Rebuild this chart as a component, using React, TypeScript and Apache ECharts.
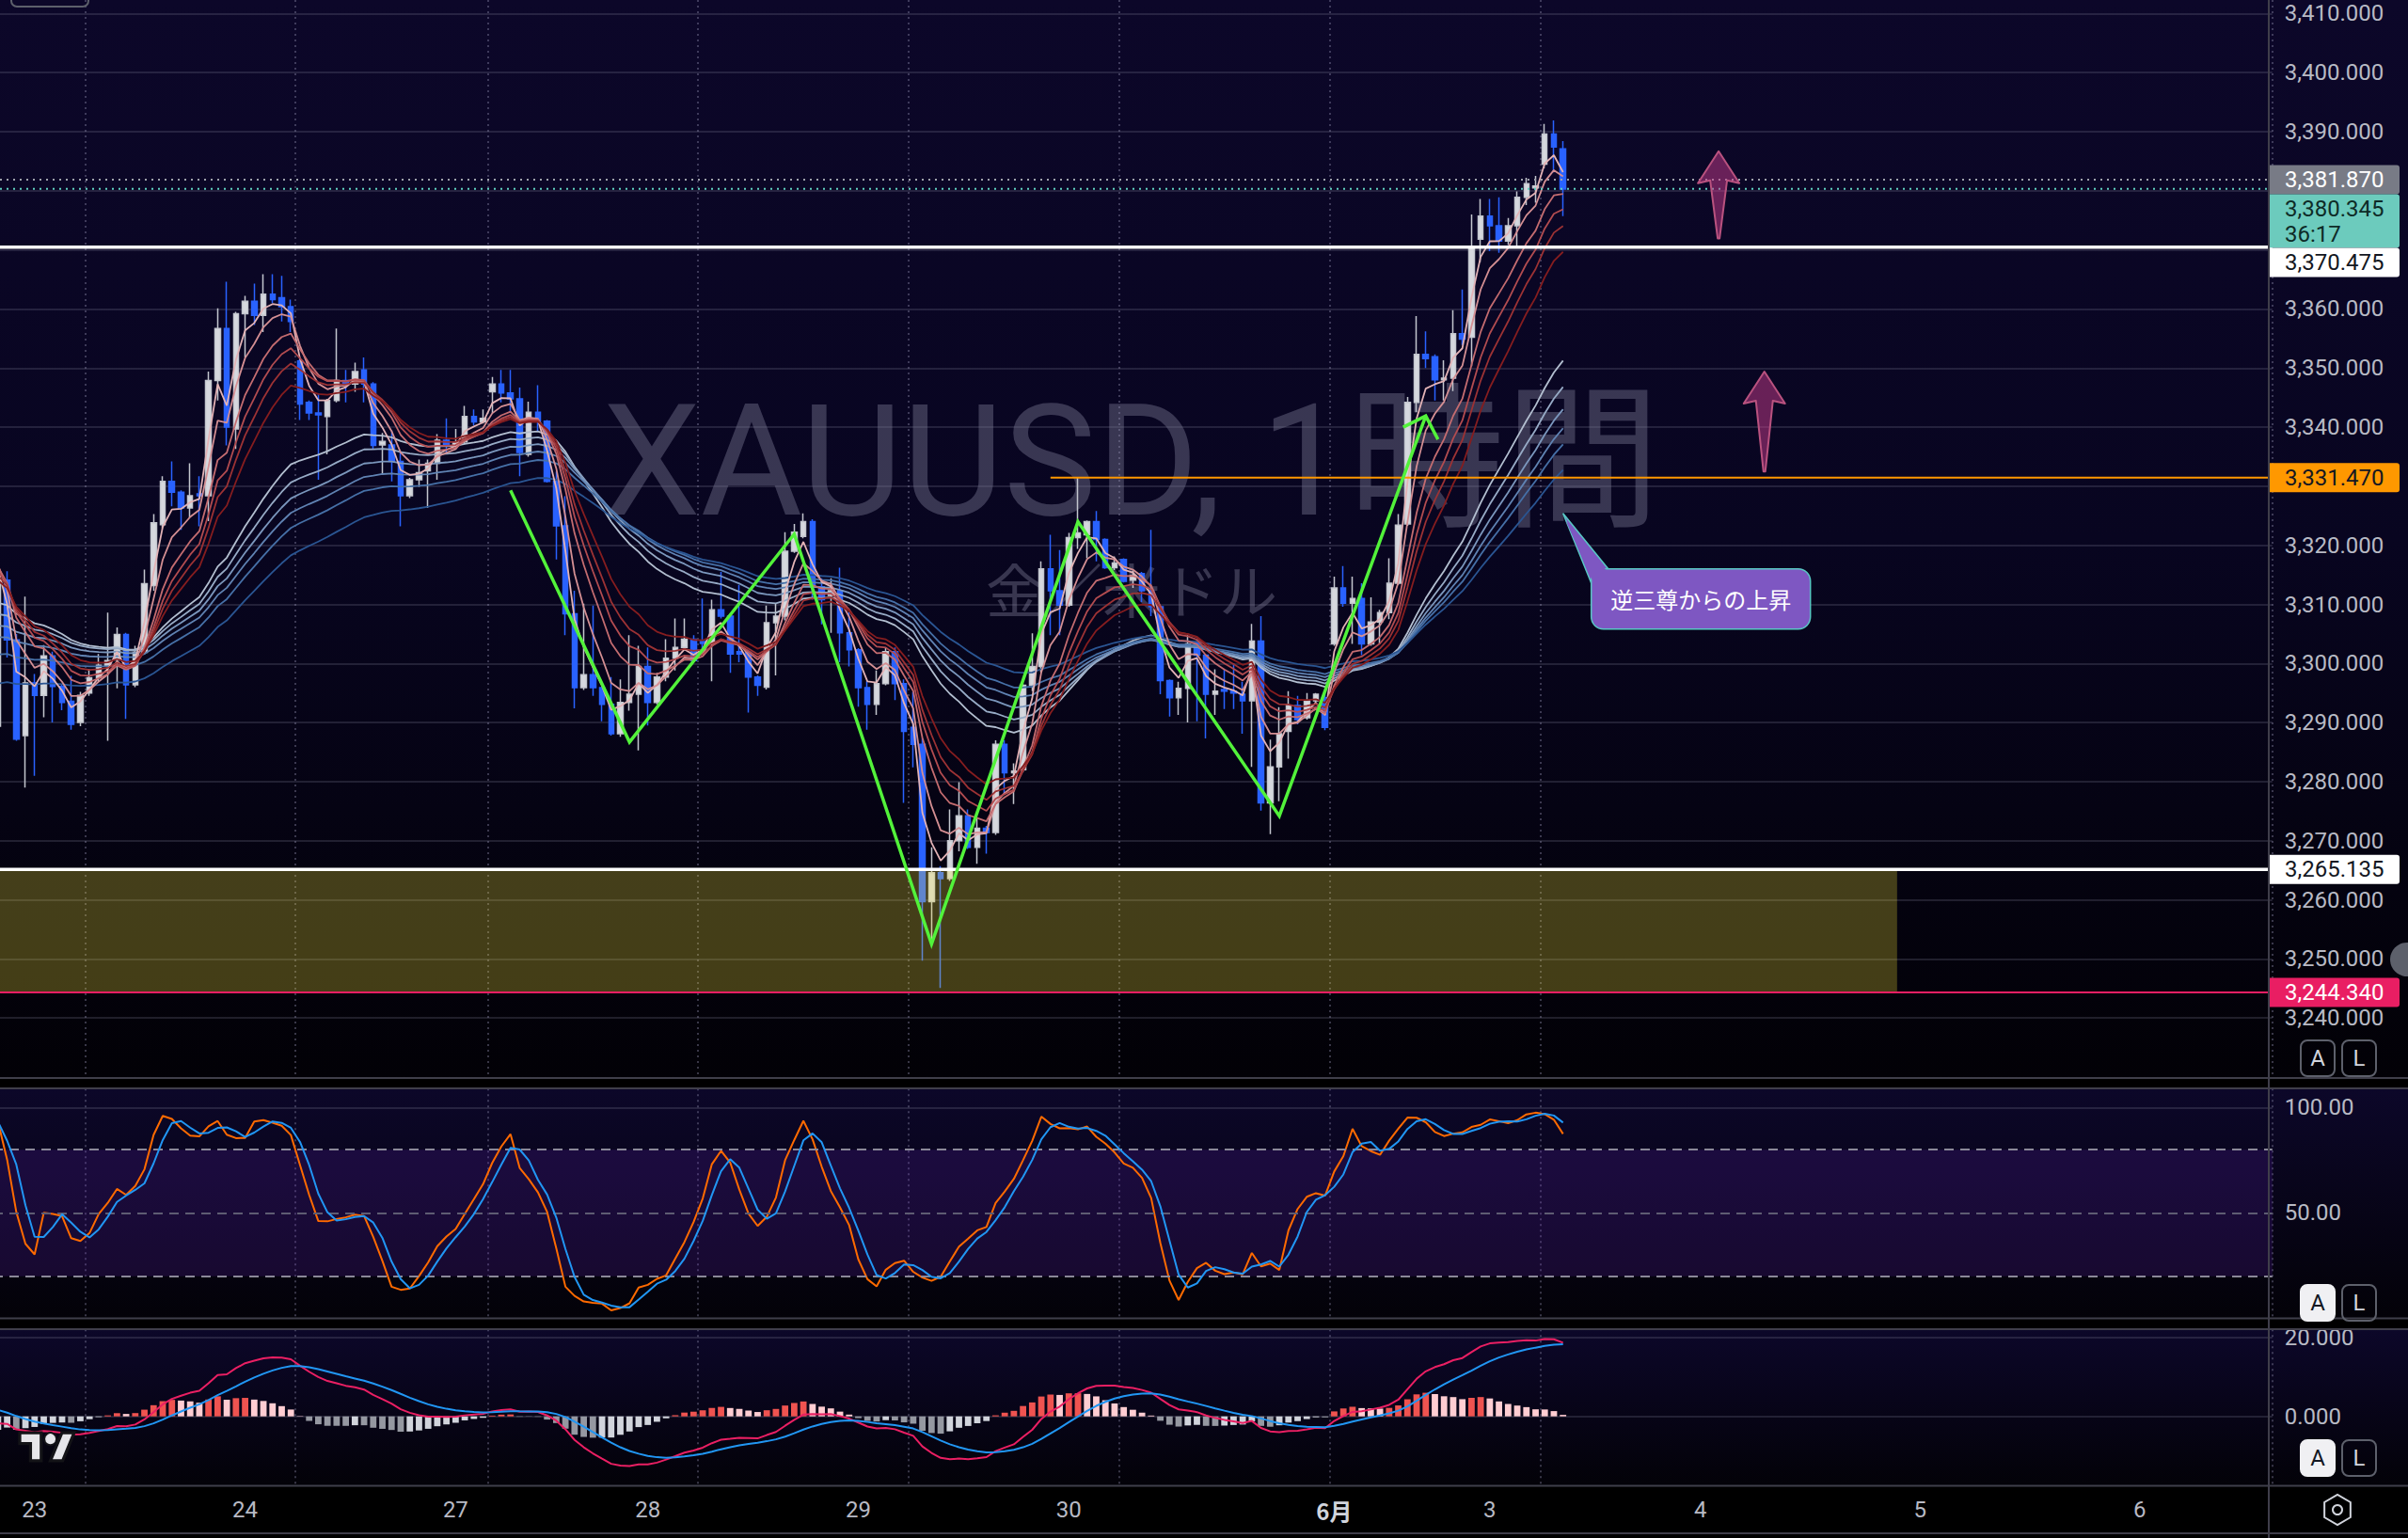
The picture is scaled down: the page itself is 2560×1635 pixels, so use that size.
import React, { useEffect, useRef } from 'react';
import * as echarts from 'echarts';

echarts.graphic.registerShape(
  'tvlogo',
  echarts.graphic.extendPath('M14 22H7V11H0V4h14v18zM28 22h-8l7.5-18h8L28 22z', {})
);

// ---------- data ----------
const OPEN = [
  3289.4, 3314.1, 3304.0, 3287.8, 3296.7, 3294.6, 3301.3, 3296.1, 3293.6, 3290.0,
  3295.0, 3297.6, 3299.7, 3300.6, 3304.9, 3296.4, 3301.9, 3313.2, 3323.5, 3330.8,
  3329.0, 3326.3, 3328.7, 3328.4, 3347.9, 3356.7, 3339.7, 3359.2, 3361.3, 3358.9,
  3362.5, 3361.9, 3360.4, 3351.2, 3344.2, 3342.4, 3341.8, 3344.5, 3347.9, 3347.3,
  3349.7, 3347.3, 3337.0, 3337.0, 3334.2, 3328.4, 3331.1, 3332.6, 3333.9, 3337.8,
  3336.9, 3337.5, 3341.8, 3340.9, 3346.0, 3347.3, 3345.8, 3344.8, 3335.4, 3342.5,
  3341.0, 3330.8, 3323.3, 3308.4, 3295.9, 3298.1, 3295.9, 3293.1, 3288.1, 3293.4,
  3294.8, 3299.5, 3293.4, 3297.7, 3300.9, 3302.7, 3304.1, 3303.7, 3303.4, 3309.1,
  3308.0, 3302.0, 3301.9, 3297.7, 3296.0, 3306.9, 3308.0, 3319.0, 3321.5, 3324.0,
  3313.0, 3311.5, 3312.3, 3305.2, 3302.3, 3295.9, 3293.1, 3296.6, 3302.0, 3296.6,
  3289.2, 3286.3, 3259.7, 3264.6, 3263.6, 3270.0, 3274.2, 3268.9, 3272.1, 3271.4,
  3286.3, 3281.5, 3282.0, 3296.3, 3299.5, 3316.0, 3312.3, 3309.9, 3321.3, 3321.8,
  3324.0, 3321.0, 3316.2, 3317.6, 3314.1, 3315.2, 3312.3, 3309.6, 3297.1, 3294.2,
  3295.8, 3303.5, 3301.4, 3294.8, 3295.6, 3295.3, 3294.8, 3293.7, 3303.8, 3276.4,
  3282.5, 3288.5, 3292.9, 3290.8, 3293.7, 3294.2, 3303.3, 3312.8, 3310.2, 3311.0,
  3303.3, 3307.0, 3308.6, 3313.6, 3323.6, 3344.2, 3352.3, 3351.9, 3348.0, 3348.3,
  3355.8, 3355.2, 3371.8, 3375.7, 3374.1, 3371.5, 3374.1, 3378.9, 3380.5, 3384.5,
  3389.6, 3387.1,
];
const CLOSE = [
  3314.1, 3304.0, 3287.2, 3296.7, 3294.6, 3301.3, 3296.1, 3293.4, 3289.7, 3294.6,
  3297.6, 3299.7, 3300.5, 3304.9, 3296.4, 3301.9, 3313.5, 3323.8, 3330.8, 3329.0,
  3326.3, 3328.4, 3328.4, 3347.9, 3356.7, 3340.0, 3359.2, 3361.3, 3358.9, 3362.5,
  3361.6, 3360.4, 3357.9, 3343.9, 3342.4, 3342.1, 3344.5, 3347.9, 3347.3, 3349.4,
  3347.3, 3336.9, 3337.6, 3334.2, 3328.4, 3331.1, 3332.3, 3333.9, 3337.8, 3336.9,
  3337.5, 3341.8, 3340.9, 3341.5, 3347.3, 3345.8, 3344.8, 3335.7, 3342.5, 3341.0,
  3330.8, 3323.3, 3308.4, 3295.9, 3298.1, 3295.9, 3293.1, 3288.1, 3293.4, 3294.8,
  3299.5, 3293.4, 3297.7, 3300.9, 3302.7, 3304.1, 3300.5, 3303.4, 3309.1, 3308.0,
  3301.6, 3301.6, 3297.7, 3296.3, 3306.9, 3308.0, 3319.0, 3322.2, 3324.0, 3313.0,
  3310.8, 3312.3, 3305.2, 3302.3, 3295.9, 3293.1, 3296.6, 3302.0, 3296.6, 3288.5,
  3286.3, 3259.7, 3264.6, 3263.6, 3270.0, 3274.2, 3268.9, 3272.1, 3271.4, 3286.3,
  3281.5, 3281.8, 3296.3, 3299.5, 3316.0, 3312.3, 3309.9, 3321.3, 3322.1, 3324.0,
  3321.0, 3316.2, 3317.0, 3313.9, 3314.9, 3312.3, 3309.6, 3297.1, 3294.2, 3295.8,
  3303.3, 3301.4, 3294.8, 3295.3, 3295.3, 3295.0, 3293.7, 3303.8, 3276.4, 3282.5,
  3288.1, 3292.9, 3290.5, 3293.7, 3294.8, 3289.2, 3312.8, 3310.2, 3311.0, 3303.3,
  3307.0, 3308.6, 3313.6, 3323.4, 3344.2, 3352.3, 3351.6, 3348.0, 3348.3, 3355.8,
  3354.9, 3370.5, 3375.7, 3374.1, 3371.5, 3374.1, 3378.9, 3381.2, 3380.8, 3389.6,
  3387.4, 3380.3,
];
const HIGH = [
  3316.0, 3315.6, 3305.0, 3311.3, 3298.2, 3303.1, 3302.0, 3296.4, 3297.9, 3295.2,
  3299.1, 3301.6, 3308.6, 3306.1, 3305.2, 3303.0, 3315.9, 3325.3, 3331.7, 3334.2,
  3329.3, 3333.9, 3331.7, 3349.4, 3360.1, 3364.6, 3359.5, 3362.2, 3364.3, 3365.9,
  3365.9, 3365.6, 3361.6, 3351.5, 3344.5, 3345.7, 3344.8, 3356.7, 3349.7, 3350.9,
  3351.8, 3347.6, 3339.0, 3339.4, 3336.0, 3331.4, 3334.5, 3334.5, 3338.8, 3341.5,
  3339.7, 3343.6, 3343.0, 3343.0, 3348.5, 3349.7, 3349.7, 3346.7, 3344.3, 3347.1,
  3341.2, 3332.5, 3328.3, 3312.3, 3310.1, 3309.8, 3296.0, 3297.7, 3297.3, 3304.8,
  3303.0, 3302.7, 3298.4, 3304.1, 3307.6, 3307.6, 3304.8, 3311.0, 3310.8, 3315.5,
  3308.3, 3313.3, 3302.3, 3298.0, 3309.8, 3310.1, 3322.2, 3323.6, 3325.4, 3324.4,
  3314.4, 3314.4, 3316.2, 3308.7, 3302.6, 3297.0, 3298.8, 3302.7, 3302.7, 3297.3,
  3295.2, 3287.4, 3268.9, 3265.7, 3275.3, 3279.9, 3275.3, 3273.9, 3272.5, 3287.0,
  3287.0, 3283.1, 3296.5, 3305.1, 3317.3, 3321.8, 3319.2, 3322.1, 3331.47, 3324.2,
  3325.8, 3321.2, 3318.1, 3317.8, 3315.7, 3315.5, 3322.6, 3309.8, 3297.3, 3296.9,
  3304.8, 3303.8, 3301.6, 3299.0, 3299.0, 3300.0, 3296.9, 3306.7, 3308.0, 3287.1,
  3292.6, 3295.3, 3294.5, 3295.0, 3295.0, 3295.0, 3314.7, 3316.5, 3314.7, 3313.6,
  3311.2, 3309.1, 3317.8, 3325.3, 3345.1, 3358.8, 3356.2, 3352.3, 3351.3, 3359.8,
  3363.3, 3376.0, 3378.6, 3378.6, 3378.9, 3375.4, 3379.9, 3382.2, 3382.5, 3391.3,
  3391.9, 3388.4,
];
const LOW = [
  3288.0, 3301.0, 3286.9, 3279.0, 3281.0, 3290.9, 3290.0, 3292.1, 3288.8, 3289.4,
  3294.5, 3297.0, 3286.9, 3295.8, 3290.6, 3296.0, 3301.5, 3312.3, 3322.9, 3326.6,
  3322.6, 3324.7, 3323.2, 3324.1, 3344.5, 3336.9, 3336.3, 3351.8, 3357.3, 3356.1,
  3361.0, 3357.9, 3356.1, 3341.2, 3341.2, 3331.1, 3335.4, 3344.2, 3344.2, 3346.0,
  3344.2, 3336.3, 3332.0, 3330.8, 3323.2, 3328.0, 3329.9, 3326.3, 3331.1, 3335.4,
  3336.3, 3337.2, 3340.3, 3340.6, 3342.4, 3344.2, 3342.4, 3331.7, 3335.0, 3339.3,
  3330.6, 3317.6, 3304.8, 3292.4, 3295.5, 3294.5, 3290.2, 3287.8, 3287.6, 3292.0,
  3285.3, 3289.5, 3293.1, 3297.0, 3298.8, 3302.3, 3300.2, 3302.0, 3297.0, 3307.6,
  3298.4, 3300.2, 3291.7, 3294.5, 3295.6, 3298.0, 3307.3, 3318.7, 3321.2, 3310.8,
  3306.6, 3305.2, 3300.2, 3299.5, 3292.7, 3288.8, 3291.3, 3296.3, 3293.8, 3276.4,
  3282.4, 3249.7, 3252.6, 3245.1, 3263.2, 3268.2, 3268.6, 3266.1, 3267.8, 3271.0,
  3278.0, 3276.2, 3281.6, 3295.3, 3298.5, 3304.8, 3304.8, 3309.6, 3319.4, 3317.8,
  3317.3, 3316.0, 3315.8, 3313.7, 3312.8, 3310.4, 3308.0, 3294.8, 3291.0, 3291.3,
  3290.0, 3290.2, 3287.3, 3291.3, 3292.3, 3292.3, 3288.1, 3282.5, 3275.1, 3271.1,
  3276.7, 3283.9, 3289.7, 3290.5, 3293.2, 3288.7, 3303.0, 3309.6, 3303.3, 3301.4,
  3303.0, 3303.3, 3307.5, 3313.3, 3323.3, 3342.5, 3350.0, 3344.5, 3344.5, 3346.1,
  3353.9, 3350.3, 3367.9, 3369.8, 3369.5, 3370.8, 3370.5, 3377.6, 3378.0, 3383.8,
  3383.1, 3375.7,
];

const SLOT_COUNT = 249; // hourly slots shown incl. empty future area
const PRICE_TICKS = [3240, 3250, 3260, 3270, 3280, 3290, 3300, 3310, 3320, 3330, 3340, 3350, 3360, 3370, 3380, 3390, 3400, 3410];
const PRICE_LABEL_TICKS = [3240, 3250, 3260, 3270, 3280, 3290, 3300, 3310, 3320, 3340, 3350, 3360, 3390, 3400, 3410];
const STOCH_LABEL_TICKS = [50, 100];
const STOCH_LEVELS = [80, 50, 20];
const MACD_TICKS = [0, 20];
const DAY_LABEL_IDX = [4, 27, 50, 71, 94, 117, 146, 163, 186, 210, 234];
const DAY_LABEL_TEXT = ['23', '24', '27', '28', '29', '30', '6月', '3', '4', '5', '6'];
const SESSION_BREAK_IDX = [10, 33, 54, 77, 100, 123, 146, 169];

const SHORT_EMA = [3, 5, 8, 10, 12, 15];
const LONG_EMA = [30, 35, 40, 45, 50, 60];
const SHORT_EMA_START = [3318, 3318, 3317, 3316, 3315, 3314];
const LONG_EMA_START = [3310, 3308, 3306, 3304, 3301, 3296];
const MACD_START = { fast: 3306.0, slow: 3308.6, signal: 2.5 };

const LEVEL_PRICES = [3370.475, 3265.135, 3244.34, 3331.47, 3381.87, 3380.345];
const LEVEL_START_IDX = [0, 0, 0, 115, 0, 0];
const ZONE = [207, 3265.135, 3244.34]; // right edge index, top, bottom
const ZIG_X = [56, 69, 87, 102, 118, 140, 156];
const ZIG_Y = [3329.3, 3286.7, 3321.9, 3252.5, 3324.0, 3274.2, 3341.9];
const UP_ARROWS = [
  [188, 3386.7, 3371.95],
  [193, 3349.4, 3332.5],
];
const CALLOUT_AT = [171, 3325.4];
const CALLOUT_TEXT = '逆三尊からの上昇';
const TAG_PRICES = [3381.87, 3380.345, 3370.475, 3331.47, 3265.135, 3244.34];
const COUNTDOWN = '36:17';
const WATERMARK = 'XAUUSD, 1時間';
const WATERMARK_SUB = '金／米ドル';

// ---------- indicator helpers ----------
const emaOf = (src: number[], period: number, start: number) => {
  const k = 2 / (period + 1);
  let prev = start;
  return src.map((v) => {
    prev = prev + k * (v - prev);
    return +prev.toFixed(3);
  });
};
const smaOf = (src: number[], n: number) =>
  src.map((_, i) => {
    const s = Math.max(0, i - n + 1);
    let sum = 0;
    for (let j = s; j <= i; j++) sum += src[j];
    return sum / (i - s + 1);
  });

const FONT = 'Roboto, "Noto Sans", sans-serif';
const CJK = '"Noto Sans CJK JP", "Noto Sans", sans-serif';
const LATIN_CJK = 'Roboto, "Noto Sans CJK JP", sans-serif';
const AXIS_TEXT = '#b8bac4';
const fmt = (v: number, d: number) =>
  v.toLocaleString('en-US', { minimumFractionDigits: d, maximumFractionDigits: d });

const App = () => {
  const ref = useRef<HTMLDivElement>(null);
  useEffect(() => {
    document.body.style.margin = '0';
    document.body.style.background = '#000';
    const chart = echarts.init(ref.current!, null, { renderer: 'svg' });

    const SLOTS = Array.from({ length: SLOT_COUNT }, (_, i) => String(i));
    const SLOT_W = 9.73;
    const GRID_W = SLOT_COUNT * SLOT_W;
    const breakSet = new Set(SESSION_BREAK_IDX);
    const labelMap = new Map(DAY_LABEL_IDX.map((d, k) => [d, DAY_LABEL_TEXT[k]]));

    // indicators
    const shortE = SHORT_EMA.map((p, k) => emaOf(CLOSE, p, SHORT_EMA_START[k]));
    const longE = LONG_EMA.map((p, k) => emaOf(CLOSE, p, LONG_EMA_START[k]));
    const rawK = CLOSE.map((c, i) => {
      const s = Math.max(0, i - 13);
      let hh = -Infinity;
      let ll = Infinity;
      for (let j = s; j <= i; j++) {
        hh = Math.max(hh, HIGH[j]);
        ll = Math.min(ll, LOW[j]);
      }
      return hh === ll ? 50 : (100 * (c - ll)) / (hh - ll);
    });
    const stK = smaOf(rawK, 3).map((v) => +v.toFixed(2));
    const stD = smaOf(stK, 3).map((v) => +v.toFixed(2));
    const e12 = emaOf(CLOSE, 12, MACD_START.fast);
    const e26 = emaOf(CLOSE, 26, MACD_START.slow);
    const macd = e12.map((v, i) => +(v - e26[i]).toFixed(3));
    const signal = emaOf(macd, 9, MACD_START.signal);
    const hist = macd.map((v, i) => +(v - signal[i]).toFixed(3));
    const histData = hist.map((h, i) => {
      const p = i > 0 ? hist[i - 1] : h;
      let color;
      if (h >= 0) color = h >= p ? '#ef5350' : '#ffcdd2';
      else color = h < p ? '#9598a1' : '#d1d4dc';
      return { value: h, itemStyle: { color } };
    });

    const shortColors = ['#e3b3b6', '#d48f93', '#c46c70', '#b24c50', '#9c3234', '#851d1f'];
    const longColors = ['#b3bfd0', '#97abc6', '#7b97bd', '#6083b3', '#4670a7', '#2a5592'];
    const levelStyles = [
      { stroke: '#ffffff', lineWidth: 3.5 },
      { stroke: '#ffffff', lineWidth: 3.5 },
      { stroke: '#e91e63', lineWidth: 2 },
      { stroke: '#ff9800', lineWidth: 2 },
      { stroke: '#9ea1ab', lineWidth: 2, lineDash: [2, 5] },
      { stroke: '#5fd0c0', lineWidth: 2, lineDash: [2, 5] },
    ];
    const tagStyles = [
      { bg: '#787b86', fg: '#ffffff' },
      { bg: '#6ccbbd', fg: '#0e2b27' },
      { bg: '#ffffff', fg: '#131722' },
      { bg: '#ff9800', fg: '#131722' },
      { bg: '#ffffff', fg: '#131722' },
      { bg: '#e91e63', fg: '#ffffff' },
    ];

    const xAxisBase = (gridIndex: number) => ({
      type: 'category',
      gridIndex,
      data: SLOTS,
      boundaryGap: true,
      axisLine: { show: false },
      axisTick: { show: false },
      axisLabel: { show: false },
      splitLine: {
        show: true,
        interval: (i: number) => breakSet.has(i),
        lineStyle: { type: [2, 4], color: 'rgba(150,148,178,0.5)', width: 1.5 },
      },
    });

    const gridBase = { left: -7, width: GRID_W, containLabel: false, outerBoundsMode: 'none' };
    const gridLine = { color: 'rgba(125,122,150,0.33)', width: 1.5 };
    const labelBase = { color: AXIS_TEXT, fontSize: 24, fontFamily: FONT, margin: 13 };
    const grad = (stops: [number, string][]) =>
      new echarts.graphic.LinearGradient(0, 0, 0, 1, stops.map(([offset, color]) => ({ offset, color })));

    const txt = (x: number, y: number, text: string, fill: string, font: string, align = 'center', z = 51) => ({
      type: 'text',
      z,
      x,
      y,
      style: { text, fill, font, align, verticalAlign: 'middle', textAlign: align, textVerticalAlign: 'middle' },
    });
    const btn = (x: number, y: number, label: string, filled: boolean) => [
      {
        type: 'rect',
        z: 50,
        shape: { x, y, width: 36, height: 38, r: 7 },
        style: { fill: filled ? '#f0f0f3' : 'rgba(0,0,0,0)', stroke: filled ? '#f0f0f3' : '#5d606b', lineWidth: 2 },
      },
      txt(x + 18, y + 19, label, filled ? '#131722' : '#d1d4dc', `24px ${FONT}`),
    ];
    const hexPts = Array.from({ length: 6 }, (_, k) => [
      2485 + 16 * Math.cos(Math.PI / 6 + (k * Math.PI) / 3),
      1605 + 16 * Math.sin(Math.PI / 6 + (k * Math.PI) / 3),
    ]);
    const sep = (x1: number, y1: number, x2: number, y2: number) => ({
      type: 'line',
      z: 50,
      shape: { x1, y1, x2, y2 },
      style: { stroke: '#3f3e4a', lineWidth: 2 },
    });

    const option: any = {
      animation: false,
      backgroundColor: '#000',
      grid: [
        { ...gridBase, top: 0, height: 1146 },
        { ...gridBase, top: 1157.3, height: 244.2 },
        { ...gridBase, top: 1413.3, height: 166 },
      ],
      xAxis: [
        xAxisBase(0),
        xAxisBase(1),
        {
          ...xAxisBase(2),
          axisLabel: {
            show: true,
            interval: (i: number) => labelMap.has(i),
            formatter: (v: string) => {
              const t = labelMap.get(Number(v)) || '';
              return t === '6月' ? `{b|${t}}` : t;
            },
            color: AXIS_TEXT,
            fontSize: 24,
            fontFamily: FONT,
            margin: 14,
            rich: { b: { fontWeight: 'bold', fontSize: 24, color: '#d1d4dc', fontFamily: CJK } },
          },
        },
      ],
      yAxis: [
        {
          type: 'value',
          gridIndex: 0,
          position: 'right',
          min: 3229.84,
          max: 3412.29,
          axisLine: { show: false },
          axisTick: { show: false, customValues: PRICE_TICKS },
          axisLabel: { ...labelBase, customValues: PRICE_LABEL_TICKS, formatter: (v: number) => fmt(v, 3) },
          splitLine: { show: true, lineStyle: gridLine },
        },
        {
          type: 'value',
          gridIndex: 1,
          position: 'right',
          min: 0,
          max: 108.92,
          axisLine: { show: false },
          axisTick: { show: false, customValues: [100] },
          axisLabel: { ...labelBase, customValues: STOCH_LABEL_TICKS, formatter: (v: number) => v.toFixed(2) },
          splitLine: { show: true, lineStyle: gridLine },
        },
        {
          type: 'value',
          gridIndex: 2,
          position: 'right',
          min: -17.52,
          max: 22.0,
          axisLine: { show: false },
          axisTick: { show: false, customValues: MACD_TICKS },
          axisLabel: { ...labelBase, customValues: MACD_TICKS, formatter: (v: number) => v.toFixed(3) },
          splitLine: { show: true, lineStyle: gridLine },
        },
      ],
      series: [
        {
          type: 'candlestick',
          xAxisIndex: 0,
          yAxisIndex: 0,
          z: 2,
          barWidth: 6,
          data: OPEN.map((o, i) => [o, CLOSE[i], LOW[i], HIGH[i]]),
          itemStyle: {
            color: '#d6d8de',
            color0: '#2962ff',
            borderColor: '#c3c6ce',
            borderColor0: '#2962ff',
            borderWidth: 1.5,
          },
        },
        ...longE.map((d, k) => ({
          type: 'line',
          xAxisIndex: 0,
          yAxisIndex: 0,
          z: 3,
          data: d,
          symbol: 'none',
          silent: true,
          lineStyle: { color: longColors[k], width: 1.8 },
        })),
        ...shortE.map((d, k) => ({
          type: 'line',
          xAxisIndex: 0,
          yAxisIndex: 0,
          z: 4,
          data: d,
          symbol: 'none',
          silent: true,
          lineStyle: { color: shortColors[k], width: 1.8 },
        })),
        {
          type: 'custom',
          xAxisIndex: 0,
          yAxisIndex: 0,
          z: 5,
          silent: true,
          data: [ZONE],
          renderItem: (params: any, api: any) => {
            const cs = params.coordSys;
            const top = api.coord([api.value(0), api.value(1)]);
            const bot = api.coord([api.value(0), api.value(2)]);
            const right = top[0] + api.size([1, 0])[0] / 2;
            return {
              type: 'rect',
              shape: { x: cs.x, y: top[1], width: right - cs.x, height: bot[1] - top[1] },
              style: { fill: 'rgba(255,235,59,0.26)' },
            };
          },
        },
        {
          type: 'custom',
          xAxisIndex: 0,
          yAxisIndex: 0,
          z: 6,
          silent: true,
          data: LEVEL_PRICES.map((p, k) => [LEVEL_START_IDX[k], p, k]),
          renderItem: (params: any, api: any) => {
            const cs = params.coordSys;
            const s = api.value(0);
            const pt = api.coord([s, api.value(1)]);
            const st = levelStyles[api.value(2)];
            return {
              type: 'line',
              shape: { x1: s === 0 ? cs.x : pt[0], y1: pt[1], x2: cs.x + cs.width, y2: pt[1] },
              style: { ...st },
            };
          },
        },
        {
          type: 'custom',
          xAxisIndex: 0,
          yAxisIndex: 0,
          z: 7,
          silent: true,
          data: [[ZIG_X[0], ZIG_Y[0]]],
          renderItem: (params: any, api: any) => {
            const pts = ZIG_X.map((x, k) => api.coord([x, ZIG_Y[k]]));
            const tip = pts[pts.length - 1];
            const style = { stroke: '#52f23a', lineWidth: 3.5, fill: null, lineJoin: 'miter' };
            return {
              type: 'group',
              children: [
                { type: 'polyline', shape: { points: pts }, style },
                {
                  type: 'polyline',
                  shape: { points: [[tip[0] - 24, tip[1] + 12], tip, [tip[0] + 13, tip[1] + 25]] },
                  style,
                },
              ],
            };
          },
        },
        {
          type: 'custom',
          xAxisIndex: 0,
          yAxisIndex: 0,
          z: 8,
          silent: true,
          data: UP_ARROWS,
          renderItem: (params: any, api: any) => {
            const t = api.coord([api.value(0), api.value(1)]);
            const b = api.coord([api.value(0), api.value(2)]);
            return {
              type: 'polygon',
              shape: {
                points: [
                  t,
                  [t[0] + 22, t[1] + 34],
                  [t[0] + 9, t[1] + 31],
                  [b[0] + 1, b[1]],
                  [b[0] - 1, b[1]],
                  [t[0] - 9, t[1] + 31],
                  [t[0] - 22, t[1] + 34],
                ],
              },
              style: { fill: 'rgba(200,60,140,0.5)', stroke: '#b9527f', lineWidth: 2, lineJoin: 'round' },
            };
          },
        },
        {
          type: 'custom',
          xAxisIndex: 0,
          yAxisIndex: 0,
          z: 9,
          silent: true,
          data: [CALLOUT_AT],
          renderItem: (params: any, api: any) => {
            const t = api.coord([api.value(0), api.value(1)]);
            const box = { x: t[0] + 30, y: t[1] + 59, width: 233, height: 64, r: 13 };
            const pointer = [t, [t[0] + 30, t[1] + 74], [t[0] + 48, t[1] + 59]];
            const fill = '#7e57c2';
            return {
              type: 'group',
              children: [
                { type: 'polygon', shape: { points: pointer }, style: { fill, stroke: '#58c7c4', lineWidth: 1.5 } },
                { type: 'rect', shape: box, style: { fill, stroke: '#58c7c4', lineWidth: 1.5 } },
                {
                  type: 'polygon',
                  shape: { points: [[t[0] + 3, t[1] + 8], [t[0] + 31.5, t[1] + 72], [t[0] + 46, t[1] + 60.5]] },
                  style: { fill },
                },
                {
                  type: 'text',
                  x: box.x + box.width / 2,
                  y: box.y + box.height / 2,
                  style: {
                    text: CALLOUT_TEXT,
                    fill: '#ffffff',
                    font: `24px ${CJK}`,
                    align: 'center',
                    verticalAlign: 'middle',
                  },
                },
              ],
            };
          },
        },
        {
          type: 'custom',
          xAxisIndex: 0,
          yAxisIndex: 0,
          z: 20,
          silent: true,
          data: [[0, TAG_PRICES[0]]],
          renderItem: (params: any, api: any) => {
            const x0 = 2412;
            let prevBottom = -Infinity;
            const children: any[] = [];
            TAG_PRICES.forEach((p, k) => {
              const h = k === 1 ? 57 : 31;
              const cy = api.coord([0, p])[1];
              const top = Math.max(cy - 15.5, prevBottom);
              prevBottom = top + h;
              const st = tagStyles[k];
              children.push({
                type: 'rect',
                shape: { x: x0, y: top, width: 139, height: h, r: [0, 3, 3, 0] },
                style: { fill: st.bg },
              });
              children.push({
                type: 'text',
                x: x0 + 17,
                y: top + 15.5,
                style: { text: fmt(p, 3), fill: st.fg, font: `24px ${FONT}`, align: 'left', verticalAlign: 'middle' },
              });
              if (k === 1) {
                children.push({
                  type: 'text',
                  x: x0 + 17,
                  y: top + 42,
                  style: { text: COUNTDOWN, fill: st.fg, font: `24px ${FONT}`, align: 'left', verticalAlign: 'middle' },
                });
              }
            });
            return { type: 'group', children };
          },
        },
        {
          type: 'line',
          xAxisIndex: 1,
          yAxisIndex: 1,
          z: 4,
          data: stK,
          symbol: 'none',
          silent: true,
          lineStyle: { color: '#ff6a00', width: 2 },
          markArea: {
            silent: true,
            itemStyle: { color: 'rgba(120,40,220,0.17)' },
            data: [[{ yAxis: 20 }, { yAxis: 80 }]],
          },
          markLine: {
            silent: true,
            symbol: ['none', 'none'],
            label: { show: false },
            lineStyle: { type: [10, 7], color: '#8a8898', width: 1.8 },
            data: STOCH_LEVELS.map((v) =>
              v === 50 ? { yAxis: v, lineStyle: { color: '#5e5c72', type: [10, 7], width: 1.8 } } : { yAxis: v }
            ),
          },
        },
        {
          type: 'line',
          xAxisIndex: 1,
          yAxisIndex: 1,
          z: 5,
          data: stD,
          symbol: 'none',
          silent: true,
          lineStyle: { color: '#2196f3', width: 2 },
        },
        {
          type: 'bar',
          xAxisIndex: 2,
          yAxisIndex: 2,
          z: 3,
          barWidth: '70%',
          silent: true,
          data: histData,
        },
        {
          type: 'line',
          xAxisIndex: 2,
          yAxisIndex: 2,
          z: 5,
          data: macd,
          symbol: 'none',
          silent: true,
          lineStyle: { color: '#ea1f63', width: 2 },
        },
        {
          type: 'line',
          xAxisIndex: 2,
          yAxisIndex: 2,
          z: 6,
          data: signal,
          symbol: 'none',
          silent: true,
          lineStyle: { color: '#2196f3', width: 2 },
        },
      ],
      graphic: {
        elements: [
          {
            type: 'rect',
            z: -10,
            silent: true,
            shape: { x: 0, y: 0, width: 2560, height: 1146 },
            style: { fill: grad([[0, '#0c0729'], [0.5, '#080520'], [1, '#020106']]) },
          },
          {
            type: 'rect',
            z: -10,
            silent: true,
            shape: { x: 0, y: 1157, width: 2560, height: 244 },
            style: { fill: grad([[0, '#0c0729'], [1, '#030208']]) },
          },
          {
            type: 'rect',
            z: -10,
            silent: true,
            shape: { x: 0, y: 1413, width: 2560, height: 166 },
            style: { fill: grad([[0, '#0c0729'], [1, '#030208']]) },
          },
          txt(1203, 490, WATERMARK, 'rgba(190,190,215,0.27)', `166px ${LATIN_CJK}`, 'center', -5),
          txt(1203, 630, WATERMARK_SUB, 'rgba(190,190,215,0.27)', `62px ${LATIN_CJK}`, 'center', -5),
          sep(0, 1146, 2560, 1146),
          sep(0, 1157, 2560, 1157),
          sep(0, 1401.5, 2560, 1401.5),
          sep(0, 1413, 2560, 1413),
          sep(0, 1579.5, 2560, 1579.5),
          sep(0, 1630, 2560, 1630),
          sep(2412, 0, 2412, 1635),
          {
            type: 'rect',
            z: 50,
            shape: { x: 12, y: -10, width: 82, height: 17, r: 6 },
            style: { fill: 'rgba(0,0,0,0)', stroke: '#5d606b', lineWidth: 2 },
          },
          { type: 'circle', z: 50, shape: { cx: 2559, cy: 1020, r: 18 }, style: { fill: '#5d606b' } },
          ...btn(2446, 1106, 'A', false),
          ...btn(2490, 1106, 'L', false),
          ...btn(2446, 1366, 'A', true),
          ...btn(2490, 1366, 'L', false),
          ...btn(2446, 1531, 'A', true),
          ...btn(2490, 1531, 'L', false),
          {
            type: 'polygon',
            z: 50,
            shape: { points: hexPts },
            style: { fill: 'rgba(0,0,0,0)', stroke: '#d1d4dc', lineWidth: 2 },
          },
          { type: 'circle', z: 50, shape: { cx: 2485, cy: 1605, r: 5 }, style: { fill: 'rgba(0,0,0,0)', stroke: '#d1d4dc', lineWidth: 2 } },
          {
            type: 'tvlogo',
            z: 50,
            x: 21,
            y: 1516.5,
            scaleX: 1.63,
            scaleY: 1.65,
            style: { fill: '#e6e6ea', stroke: '#131317', lineWidth: 2 },
          },
          {
            type: 'circle',
            z: 50,
            shape: { cx: 21 + 20 * 1.63, cy: 1516.5 + 8 * 1.65, r: 4 * 1.63 },
            style: { fill: '#e6e6ea', stroke: '#131317', lineWidth: 2 },
          },
        ],
      },
    };

    chart.setOption(option);
    return () => chart.dispose();
  }, []);
  return <div ref={ref} style={{ width: 2560, height: 1635, background: '#000' }} />;
};

export default App;
